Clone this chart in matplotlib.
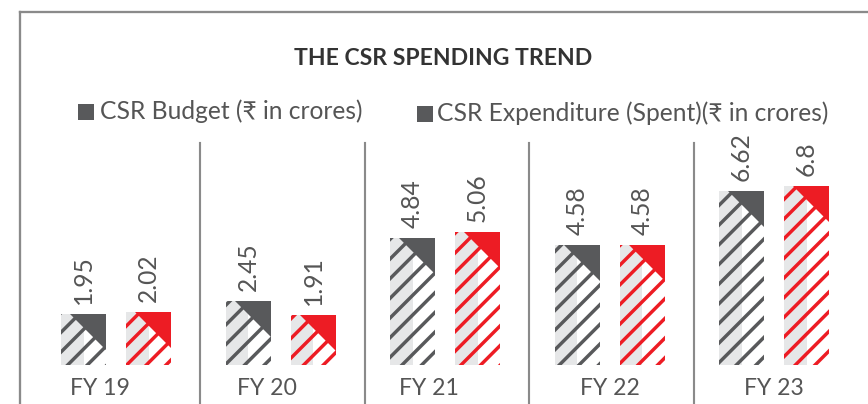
import matplotlib
matplotlib.use("Agg")
import matplotlib.pyplot as plt
from matplotlib.patches import Polygon, Rectangle
from matplotlib.lines import Line2D
import numpy as np

# ---------------- data ----------------
years = ["FY 19", "FY 20", "FY 21", "FY 22", "FY 23"]
budget = [1.95, 2.45, 4.84, 4.58, 6.62]
spent = [2.02, 1.91, 5.06, 4.58, 6.8]
legend_labels = ["CSR Budget (₹ in crores)", "CSR Expenditure (Spent)(₹ in crores)"]
title = "THE CSR SPENDING TREND"

# ---------------- style ----------------
DARK = "#58595b"
RED = "#ed1c24"
LIGHT = "#e6e7e8"
TXT = "#555555"
LINE = "#8a8a8a"
FONT = ["Lato", "DejaVu Sans"]

W, H, DPI = 868, 404, 118
plt.rcParams["font.family"] = FONT
plt.rcParams["hatch.linewidth"] = 2.1

fig = plt.figure(figsize=(W / DPI, H / DPI), dpi=DPI)
ax = fig.add_axes([0, 0, 1, 1])

# layout in pixels
grp0, step = 116, 164.5      # first group centre, group spacing
base_px, unit_px = 365, 26.3  # baseline from top, px per crore
bar_w = 45 / step
off = 32.5 / step
tri_x = 36 / step
tri_y = 36 / unit_px

ax.set_xlim(-grp0 / step, (W - grp0) / step)
ax.set_ylim(-(H - base_px) / unit_px, base_px / unit_px)
ax.axis("off")

x = np.arange(len(years))

for xs, vals, col in [(x - off, budget, DARK), (x + off, spent, RED)]:
    # left half light grey, right half white
    ax.bar(xs - bar_w / 4, vals, bar_w / 2, color=LIGHT, lw=0, zorder=1)
    ax.bar(xs, vals, bar_w, facecolor="none", edgecolor=col, hatch="//", lw=0, zorder=2)
    for xi, v in zip(xs, vals):
        r = xi + bar_w / 2
        ax.add_patch(Polygon([(r - tri_x, v), (r, v), (r, v - tri_y)],
                             closed=True, color=col, lw=0, zorder=3))
        ax.annotate(f"{v:g}", (xi, v), xytext=(0, 6), textcoords="offset points",
                    rotation=90, ha="center", va="bottom", fontsize=15, color=TXT)

# group dividers
for i in range(len(years) - 1):
    ax.axvline(i + 0.5 + 2 / step, ymin=0, ymax=1 - 143 / H, color=LINE, lw=1.3)

# x labels
nudge = [-16, -14, -16, 0, 0]
for i, lab in enumerate(years):
    ax.text(i + nudge[i] / step, -(395 - base_px) / unit_px, lab, ha="center",
            va="baseline", fontsize=14, color=TXT)

# outer frame
fig.add_artist(Line2D([20 / W, 20 / W], [0, 1 - 12 / H], color=LINE, lw=1.4))
fig.add_artist(Line2D([20 / W, 1], [1 - 12 / H, 1 - 12 / H], color=LINE, lw=1.4))

# title
fig.text(443 / W, 1 - 65 / H, title, ha="center", va="baseline",
         fontsize=14, fontweight="bold", color="#333333")

# legend
for sx, sy, tx, ty, lab in [(78, 104, 100, 119, legend_labels[0]),
                            (417, 106, 437, 121, legend_labels[1])]:
    fig.add_artist(Rectangle((sx / W, 1 - (sy + 16) / H), 16 / W, 16 / H,
                             transform=fig.transFigure, color=DARK, lw=0))
    fig.text(tx / W, 1 - ty / H, lab, ha="left", va="baseline",
             fontsize=15, color=TXT)

fig.savefig("out.png", dpi=DPI)
